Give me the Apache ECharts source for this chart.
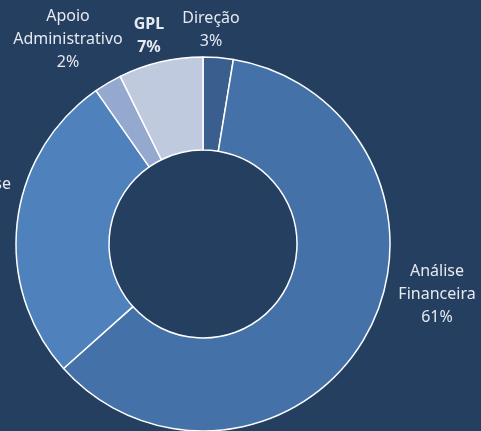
<!DOCTYPE html>
<html>
<head>
<meta charset="utf-8">
<script src="https://cdn.jsdelivr.net/npm/echarts@6/dist/echarts.min.js"></script>
<style>
  html, body { margin: 0; padding: 0; background: #243f60; }
  #main { width: 481px; height: 431px; }
</style>
</head>
<body>
<div id="main"></div>
<script>
// sectores e pesos (em %)
var names = ['Direção', 'Análise\nFinanceira', 'Análise', 'Apoio\nAdministrativo', 'GPL']
var values = [2.6, 60.8, 26.9, 2.4, 7.3]
var colors = ['#3a5f8e', '#4472a8', '#4f81bd', '#95a8d0', '#bfcadf']
// onde fica cada etiqueta (posição manual, como no original)
var labelPos = [[211, 30], [437, 294], [-16, 196], [68, 39], [149, 36]]

var myChart = echarts.init(document.getElementById('main'))

var data = []
for (let i = 0; i < names.length; i++) {
  let item = {
    name: names[i],
    value: values[i],
    itemStyle: { color: colors[i] },
  }
  if (names[i] === 'GPL') item.label = { fontWeight: 'bold' }
  data.push(item)
}

let option = {
  backgroundColor: '#243f60',
  animation: false,
  series: [
    {
      type: 'pie',
      center: [203, 244],
      radius: [94, 187],
      startAngle: 90,
      clockwise: true,
      percentPrecision: 0,
      itemStyle: {
        borderColor: '#ffffff',
        borderWidth: 1.5,
      },
      label: {
        show: true,
        position: 'inside',
        formatter: '{b}\n{d}%',
        color: '#e6e9ef',
        fontFamily: 'Noto Sans',
        fontSize: 16,
        lineHeight: 23,
        align: 'center',
        overflow: 'none',
      },
      labelLine: { show: false },
      labelLayout: function (params) {
        let p = labelPos[params.dataIndex]
        return { x: p[0], y: p[1], align: 'center', verticalAlign: 'middle', hideOverlap: false, moveOverlap: false }
      },
      emphasis: { disabled: true },
      data: data,
    },
  ],
}

myChart.setOption(option)
</script>
</body>
</html>
